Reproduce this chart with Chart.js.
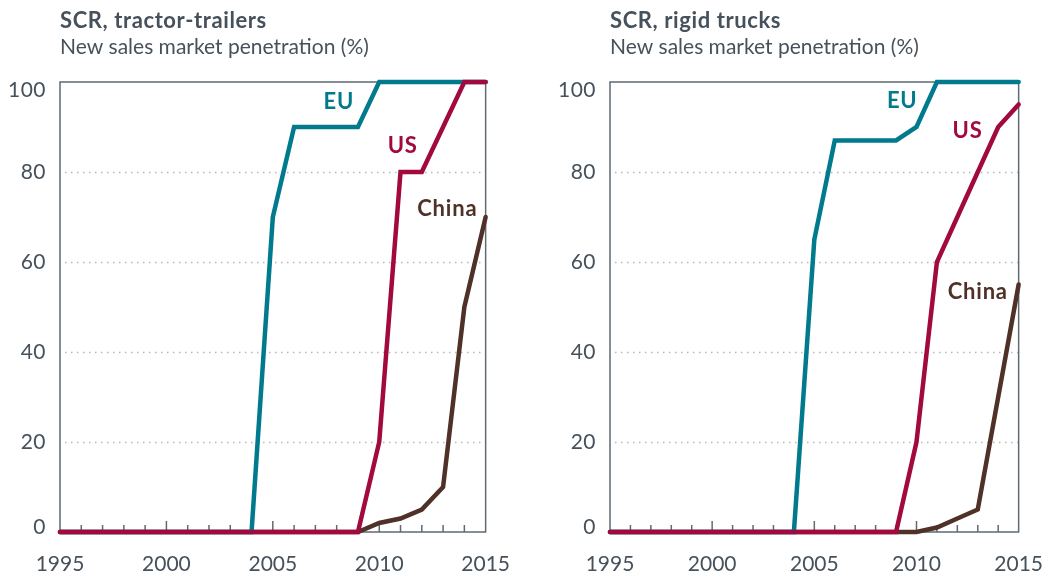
<!DOCTYPE html>
<html>
<head>
<meta charset="utf-8">
<script src="https://cdn.jsdelivr.net/npm/chart.js@4"></script>
<style>
  html, body { margin: 0; padding: 0; background: #fff; }
  #wrap { position: relative; width: 1063px; height: 575px; overflow: hidden; }
  canvas { position: absolute; top: 0; }
  #c1 { left: 0; }
  #c2 { left: 548px; }
</style>
</head>
<body>
<div id="wrap">
  <canvas id="c1" width="530" height="575"></canvas>
  <canvas id="c2" width="515" height="575"></canvas>
</div>
<script>
// データ
const years = ["1995", "1996", "1997", "1998", "1999", "2000", "2001", "2002", "2003", "2004",
  "2005", "2006", "2007", "2008", "2009", "2010", "2011", "2012", "2013", "2014", "2015"];
const xTickLabels = ["1995", "2000", "2005", "2010", "2015"];
const yTickValues = [0, 20, 40, 60, 80, 100];
const yGridValues = [20, 40, 60, 80];

// SCR, tractor-trailers
const tractorEU = [0, 0, 0, 0, 0, 0, 0, 0, 0, 0, 70, 90, 90, 90, 90, 100, 100, 100, 100, 100, 100];
const tractorUS = [0, 0, 0, 0, 0, 0, 0, 0, 0, 0, 0, 0, 0, 0, 0, 20, 80, 80, 90, 100, 100];
const tractorChina = [0, 0, 0, 0, 0, 0, 0, 0, 0, 0, 0, 0, 0, 0, 0, 2, 3, 5, 10, 50, 70];

// SCR, rigid trucks
const rigidEU = [0, 0, 0, 0, 0, 0, 0, 0, 0, 0, 65, 87, 87, 87, 87, 90, 100, 100, 100, 100, 100];
const rigidUS = [0, 0, 0, 0, 0, 0, 0, 0, 0, 0, 0, 0, 0, 0, 0, 20, 60, 70, 80, 90, 95];
const rigidChina = [0, 0, 0, 0, 0, 0, 0, 0, 0, 0, 0, 0, 0, 0, 0, 0, 1, 3, 5, 30, 55];

// --- 色・フォント ---
const COLORS = { EU: "#007a8c", US: "#a2093f", China: "#4f3128" };
const TEXT = "#46515b";
const AXIS = "#5f6a73";
const DOTS = "#b3b8bc";
const FONT = "Lato";

// 枠・点線グリッド・目盛り・文字を描くプラグイン
const framePlugin = {
  id: "frame",
  beforeDraw(chart, args, opts) {
    const { ctx, chartArea: a, scales: { y } } = chart;
    ctx.save();
    // タイトル
    ctx.fillStyle = TEXT;
    ctx.textAlign = "left";
    ctx.textBaseline = "alphabetic";
    ctx.font = `bold 22px ${FONT}`;
    ctx.letterSpacing = "0.6px";
    ctx.fillText(opts.title, a.left, 28);
    ctx.font = `21px ${FONT}`;
    ctx.letterSpacing = "0px";
    ctx.fillText(opts.subtitle, a.left, 54);
    // Y軸ラベル
    ctx.textAlign = "right";
    ctx.textBaseline = "middle";
    ctx.font = `21px ${FONT}`;
    ctx.letterSpacing = "0.5px";
    yTickValues.forEach((v) => {
      const py = Math.min(Math.max(y.getPixelForValue(v), a.top + 8), a.bottom - 5);
      ctx.fillText(String(v), a.left - 14, py);
    });
    ctx.restore();
  },
  beforeDatasetsDraw(chart) {
    const { ctx, chartArea: a, scales: { x, y } } = chart;
    ctx.save();
    // 点線グリッド
    ctx.strokeStyle = DOTS;
    ctx.lineWidth = 1.5;
    ctx.setLineDash([1.5, 4.5]);
    yGridValues.forEach((v) => {
      const py = Math.round(y.getPixelForValue(v)) + 0.5;
      ctx.beginPath();
      ctx.moveTo(a.left + 5, py);
      ctx.lineTo(a.right, py);
      ctx.stroke();
    });
    ctx.setLineDash([]);
    // 枠
    ctx.strokeStyle = AXIS;
    ctx.lineWidth = 1.5;
    ctx.strokeRect(a.left, a.top, a.right - a.left, a.bottom - a.top);
    // X軸の内向き目盛り
    years.forEach((yr, i) => {
      if (i === 0 || i === years.length - 1) return;
      const px = x.getPixelForValue(i);
      const len = xTickLabels.includes(yr) ? 11 : 7;
      ctx.beginPath();
      ctx.moveTo(px, a.bottom);
      ctx.lineTo(px, a.bottom - len);
      ctx.stroke();
    });
    ctx.restore();
  },
  afterDatasetsDraw(chart, args, opts) {
    const { ctx, scales: { x, y } } = chart;
    ctx.save();
    ctx.font = `bold 22px ${FONT}`;
    ctx.letterSpacing = "0.8px";
    ctx.textAlign = "center";
    ctx.textBaseline = "middle";
    opts.labels.forEach((l) => {
      ctx.fillStyle = COLORS[l.text];
      ctx.fillText(l.text, x.getPixelForValue(l.at[0] - 1995), y.getPixelForValue(l.at[1]));
    });
    ctx.restore();
  },
};

const makeDataset = (name, values) => ({
  label: name,
  data: values,
  borderColor: COLORS[name],
  backgroundColor: COLORS[name],
  borderWidth: 4.5,
  borderCapStyle: "round",
  borderJoinStyle: "miter",
  pointRadius: 0,
  tension: 0,
  fill: false,
  clip: 6,
});

const makeChart = (canvasId, series, frame, yWidth) =>
  new Chart(document.getElementById(canvasId), {
    type: "line",
    data: {
      labels: years,
      // Chart.jsは先頭のデータセットを一番上に描く: US が最前面
      datasets: [
        makeDataset("US", series.US),
        makeDataset("EU", series.EU),
        makeDataset("China", series.China),
      ],
    },
    options: {
      responsive: false,
      animation: false,
      devicePixelRatio: 1,
      layout: { padding: { top: 82, right: frame.right, left: 0, bottom: 0 } },
      plugins: {
        legend: { display: false },
        tooltip: { enabled: false },
        frame: frame,
      },
      scales: {
        x: {
          grid: { display: false, drawTicks: false },
          border: { display: false },
          ticks: {
            autoSkip: false,
            maxRotation: 0,
            padding: 20,
            color: TEXT,
            font: { family: FONT, size: 21 },
            callback: (val, i) => (xTickLabels.includes(years[i]) ? years[i] : ""),
          },
          afterFit: (scale) => { scale.height = 43; },
        },
        y: {
          min: 0,
          max: 100,
          grid: { display: false, drawTicks: false },
          border: { display: false },
          ticks: { display: false, stepSize: 20 },
          afterFit: (scale) => { scale.width = yWidth; },
        },
      },
    },
    plugins: [framePlugin],
  });

makeChart(
  "c1",
  { EU: tractorEU, US: tractorUS, China: tractorChina },
  {
    title: "SCR, tractor-trailers",
    subtitle: "New sales market penetration (%)",
    right: 43,
    labels: [
      { text: "EU", at: [2008.1, 95.5] },
      { text: "US", at: [2011.1, 85.7] },
      { text: "China", at: [2013.2, 71.7] },
    ],
  },
  60
);

makeChart(
  "c2",
  { EU: rigidEU, US: rigidUS, China: rigidChina },
  {
    title: "SCR, rigid trucks",
    subtitle: "New sales market penetration (%)",
    right: 28,
    labels: [
      { text: "EU", at: [2009.3, 95.7] },
      { text: "US", at: [2012.5, 89.2] },
      { text: "China", at: [2013.0, 53.4] },
    ],
  },
  62
);
</script>
</body>
</html>
